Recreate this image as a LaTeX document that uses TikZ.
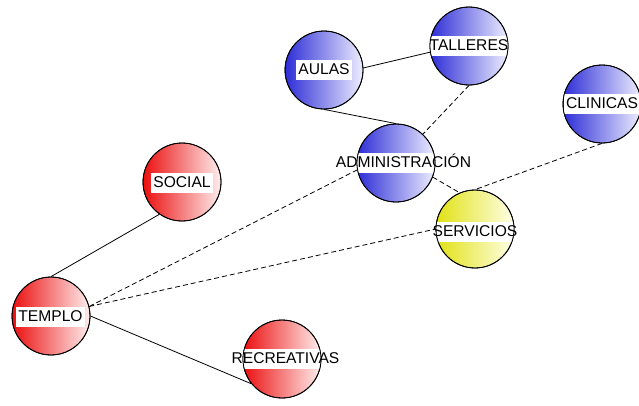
\documentclass[tikz,border=0pt]{standalone}
\usepackage{fontspec}
\setmainfont{Liberation Sans}
\usetikzlibrary{backgrounds}
\definecolor{bL}{RGB}{45,45,215}
\definecolor{bR}{RGB}{238,238,255}
\definecolor{rL}{RGB}{235,15,15}
\definecolor{rR}{RGB}{255,238,238}
\definecolor{yL}{RGB}{225,225,20}
\definecolor{yR}{RGB}{255,255,232}
\tikzset{
  bub/.style={circle, minimum size=78pt, inner sep=0pt, draw=black, line width=0.8pt},
  bluebub/.style={bub, left color=bL, right color=bR},
  redbub/.style={bub, left color=rL, right color=rR},
  yelbub/.style={bub, left color=yL, right color=yR},
  lab/.style={font=\fontsize{15.6}{17}\selectfont, inner xsep=2pt, inner ysep=3pt, text height=11.5pt, text depth=3pt},
  solidlink/.style={draw=black, line width=0.8pt},
  dashlink/.style={draw=black, line width=0.8pt, dash pattern=on 5pt off 3pt},
}
\newcommand\bubble[5]{%
  \node[#3] (#1) at (#2) {};
  \begin{scope}
    \clip (#1.center) circle (39pt);
    \node[lab, fill=white] at (#5) {\phantom{#4}};
  \end{scope}
  \draw[line width=0.8pt] (#1.center) circle (39pt);
  \node[lab] (#1-lab) at (#5) {#4};
}
\begin{document}
\begin{tikzpicture}[x=1pt, y=-1pt]
\useasboundingbox (0,0) rectangle (639,405);
\bubble{aulas}{324,70}{bluebub}{AULAS}{324,70}
\bubble{talleres}{469,46}{bluebub}{TALLERES}{469,46}
\bubble{clinicas}{602,104}{bluebub}{CLINICAS}{602,104}
\bubble{admin}{396,163}{bluebub}{ADMINISTRACIÓN}{403.5,163}
\bubble{servicios}{475,229}{yelbub}{SERVICIOS}{475,232}
\bubble{social}{182,182}{redbub}{SOCIAL}{182,183}
\bubble{templo}{51,316}{redbub}{TEMPLO}{50.5,317}
\bubble{recre}{282,359}{redbub}{RECREATIVAS}{285.5,359}
\begin{pgfonlayer}{background}
  \draw[solidlink] (aulas.3) -- (talleres.189);
  \draw[solidlink] (aulas.south) -- (admin.north);
  \draw[dashlink] (talleres.south) -- (admin.47);
  \draw[dashlink] (clinicas.south) -- (servicios.north);
  \draw[dashlink] (admin.339) -- (servicios.113);
  \draw[solidlink] (templo.north) -- (social.235);
  \draw[dashlink] (templo.14) -- (admin.190);
  \draw[dashlink] (templo.14) -- (servicios.west);
  \draw[solidlink] (templo.east) -- (recre.219);
\end{pgfonlayer}
\end{tikzpicture}
\end{document}
